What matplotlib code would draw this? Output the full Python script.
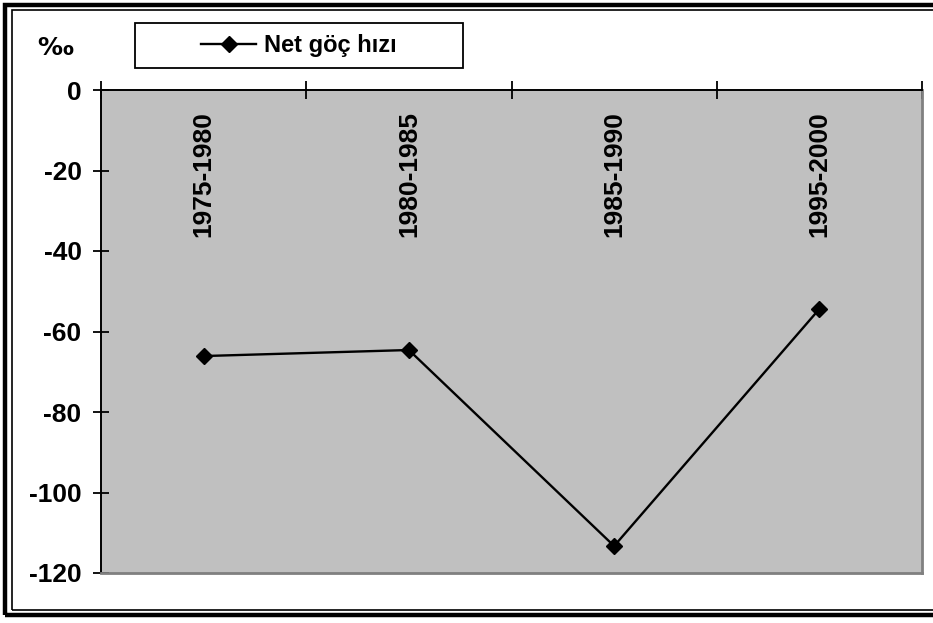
import matplotlib.pyplot as plt
from matplotlib.patches import Rectangle
from matplotlib.lines import Line2D

plt.rcParams['font.family'] = ['Liberation Sans', 'DejaVu Sans']
plt.rcParams['font.weight'] = 'bold'

periods = ['1975-1980', '1980-1985', '1985-1990', '1995-2000']
net_rate = [-66.1, -64.6, -113.3, -54.4]
y_ticks = [0, -20, -40, -60, -80, -100, -120]
series_name = 'Net göç hızı'

W, H = 933, 623
fig = plt.figure(figsize=(W / 100, H / 100), dpi=100)
fig.patch.set_facecolor('white')


def fx(px):
    return px / W


def fy(py):
    return 1 - py / H


# double border around the chart
fig.patches.append(Rectangle((fx(5), fy(615)), fx(950), fy(5) - fy(615), transform=fig.transFigure,
                             fill=False, lw=3.2, ec='black'))
fig.patches.append(Rectangle((fx(11.5), fy(609.5)), fx(950), fy(10) - fy(609.5), transform=fig.transFigure,
                             fill=False, lw=1.2, ec='black'))

left, right, top, bottom = 101, 922, 90, 573
ax = fig.add_axes([fx(left), fy(bottom), fx(right - left), fy(top) - fy(bottom)])
ax.set_facecolor('#C0C0C0')

x = list(range(1, len(periods) + 1))
ax.plot(x, net_rate, color='black', lw=1.7, marker='D', markersize=8.5, zorder=3)

ax.set_xlim(0.5, len(periods) + 0.5)
ax.set_ylim(-120, 0)
ax.set_yticks(y_ticks)
ax.set_yticklabels([str(v) for v in y_ticks], fontsize=19, fontweight='bold')
ax.tick_params(axis='y', direction='inout', length=12, width=1.3, pad=8)

# category boundaries as ticks on the zero line
ax.xaxis.tick_top()
ax.set_xticks([i + 0.5 for i in range(len(periods) + 1)])
ax.set_xticklabels([])
ax.tick_params(axis='x', direction='inout', length=13, width=1.3)

for xi, lab in zip(x, periods):
    ax.text(xi, -5.2, lab, rotation=90, ha='center', va='top', fontsize=19, fontweight='bold')

for s in ['left', 'top']:
    ax.spines[s].set_color('black')
    ax.spines[s].set_linewidth(1.4)
for s in ['right', 'bottom']:
    ax.spines[s].set_color('#808080')
    ax.spines[s].set_linewidth(2)

fig.text(fx(37), fy(48), '‰', fontsize=18, fontweight='bold', ha='left', va='center',
         family=['DejaVu Sans'])

# legend box
fig.patches.append(Rectangle((fx(135), fy(68)), fx(463 - 135), fy(23) - fy(68), transform=fig.transFigure,
                             fill=True, fc='white', lw=1.3, ec='black', zorder=1))
handle = Line2D([], [], color='black', lw=1.7, marker='D', markersize=8.5)
leg = fig.legend([handle], [series_name], loc='center', bbox_to_anchor=(fx(299), fy(45.5)),
                 frameon=False, prop={'size': 17, 'weight': 'bold'}, handlelength=2.3, handletextpad=0.35)

fig.savefig('out.png', dpi=100)
